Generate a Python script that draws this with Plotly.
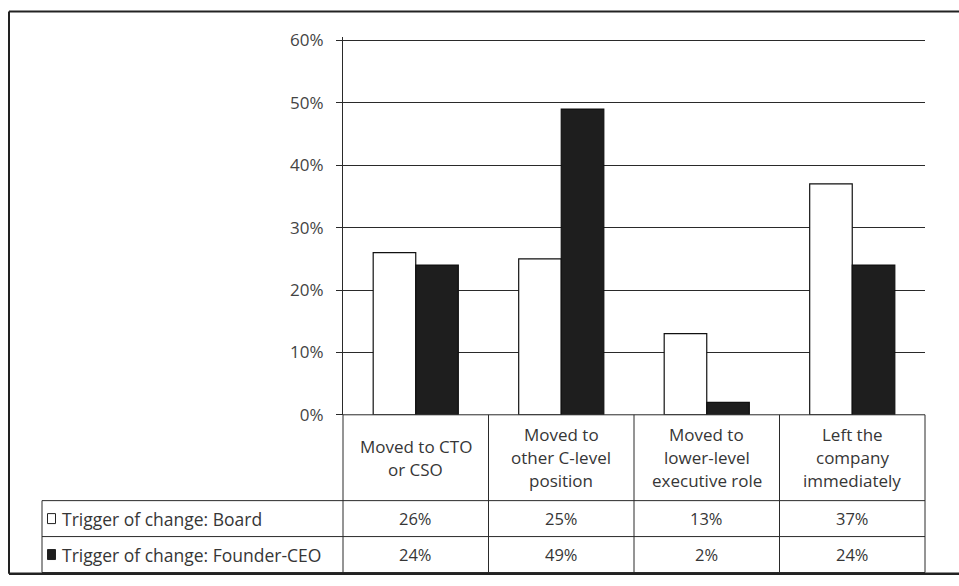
import plotly.graph_objects as go

# Outcome for the founder-CEO after the change, by who triggered it
categories = [
    "Moved to CTO<br>or CSO",
    "Moved to<br>other C-level<br>position",
    "Moved to<br>lower-level<br>executive role",
    "Left the<br>company<br>immediately",
]
series_names = ["Trigger of change: Board", "Trigger of change: Founder-CEO"]
board_pct = [26, 25, 13, 37]
founder_pct = [24, 49, 2, 24]
y_ticks = [0, 10, 20, 30, 40, 50, 60]
y_tick_labels = ["0%", "10%", "20%", "30%", "40%", "50%", "60%"]

W, H = 959, 586
FONT = "Open Sans"
TXT = "#363636"
LINE = "#2a2a2a"

# the drawn paper sits a few px below the page top and is slightly shorter
PAPER_TOP, PAPER_H = 8.5, 567

def px(x):
    return x / W

def py(y):
    return 1 - (y - PAPER_TOP) / PAPER_H

# page-pixel layout of the plot area and table rows
X0, X1 = 343, 925
Y_TOP, Y_ZERO = 40, 415
Y_ROW1, Y_ROW2, Y_BOT = 501, 537, 573
TABLE_LEFT = 42
Y_MAX = 60.5
y_top_px = Y_ZERO - (Y_ZERO - Y_TOP) * Y_MAX / 60
FRAME_BOTTOM = PAPER_TOP + PAPER_H - 1.3

fig = go.Figure()
fig.add_trace(go.Bar(
    x=list(range(len(categories))), y=board_pct, name=series_names[0],
    marker=dict(color="white", line=dict(color="#111", width=1.2)),
))
fig.add_trace(go.Bar(
    x=list(range(len(categories))), y=founder_pct, name=series_names[1],
    marker=dict(color="#1e1e1e", line=dict(color="#111", width=1.2)),
))

fig.update_layout(
    width=W, height=H,
    margin=dict(l=0, r=0, t=0, b=0),
    paper_bgcolor="white", plot_bgcolor="white",
    barmode="group", bargap=0.415, bargroupgap=0,
    showlegend=False,
    font=dict(family=FONT, color=TXT, size=16),
    xaxis=dict(
        domain=[px(X0), px(X1)], range=[-0.5, len(categories) - 0.5],
        showticklabels=False, showgrid=False, zeroline=False, showline=False,
        fixedrange=True,
    ),
    yaxis=dict(
        domain=[py(Y_ZERO), py(y_top_px)], range=[0, Y_MAX],
        tickvals=y_ticks, ticktext=y_tick_labels,
        ticks="outside", ticklen=6, tickcolor=LINE, tickwidth=1,
        ticklabelstandoff=9,
        showgrid=True, gridcolor=LINE, gridwidth=1,
        zeroline=False, showline=True, linecolor=LINE, linewidth=1,
        tickfont=dict(family=FONT, size=17, color="#444"),
        fixedrange=True,
    ),
)

shapes = []

def hline(y, x0, x1, w=1, color=LINE):
    shapes.append(dict(type="line", xref="paper", yref="paper",
                       x0=px(x0), x1=px(x1), y0=py(y), y1=py(y),
                       line=dict(color=color, width=w), layer="above"))

def vline(x, y0, y1, w=1, color=LINE):
    shapes.append(dict(type="line", xref="paper", yref="paper",
                       x0=px(x), x1=px(x), y0=py(y0), y1=py(y1),
                       line=dict(color=color, width=w), layer="above"))

# outer chart frame: top, left and bottom edges (right edge runs off the page)
hline(11, 9, 959, w=2, color="#222")
vline(9, 11, FRAME_BOTTOM, w=2, color="#222")
hline(FRAME_BOTTOM, 9, 959, w=2.5, color="#222")

# data table grid
col_w = (X1 - X0) / len(categories)
hline(Y_ZERO, X0, X1)
for y in (Y_ROW1, Y_ROW2, Y_BOT):
    hline(y, TABLE_LEFT, X1)
vline(TABLE_LEFT, Y_ROW1, Y_BOT)
vline(X0, Y_ZERO, Y_BOT)
for i in range(1, len(categories) + 1):
    vline(X0 + i * col_w, Y_ZERO, Y_BOT)

# legend keys inside the row headers
for row_y, fill in ((Y_ROW1, "white"), (Y_ROW2, "#1e1e1e")):
    cy = row_y + 18
    shapes.append(dict(type="rect", xref="paper", yref="paper",
                       x0=px(47.5), x1=px(55.5), y0=py(cy + 5), y1=py(cy - 5),
                       fillcolor=fill, line=dict(color="#222", width=1),
                       layer="above"))

fig.update_layout(shapes=shapes)

annotations = []
# category labels, one line at a time for the wider line pitch
cat_mid = (Y_ZERO + Y_ROW1) / 2
pitch = 23
for i, label in enumerate(categories):
    lines = label.split("<br>")
    start = cat_mid - pitch * (len(lines) - 1) / 2
    for j, ln in enumerate(lines):
        annotations.append(dict(
            x=i, xref="x", y=py(start + j * pitch), yref="paper",
            text=ln, showarrow=False, xanchor="center", yanchor="middle",
            font=dict(family=FONT, size=17, color=TXT),
        ))

# row headers and values
for row_top, name, vals in ((Y_ROW1, series_names[0], board_pct),
                            (Y_ROW2, series_names[1], founder_pct)):
    cy = row_top + 18
    annotations.append(dict(
        x=px(60), xref="paper", y=py(cy), yref="paper", text=name,
        showarrow=False, xanchor="left", yanchor="middle",
        font=dict(family=FONT, size=17.5, color=TXT),
    ))
    for i, v in enumerate(vals):
        annotations.append(dict(
            x=i, xref="x", y=py(cy), yref="paper", text=f"{v}%",
            showarrow=False, xanchor="center", yanchor="middle",
            font=dict(family=FONT, size=16.5, color=TXT),
        ))

fig.update_layout(annotations=annotations)

fig.write_html("out.html")
